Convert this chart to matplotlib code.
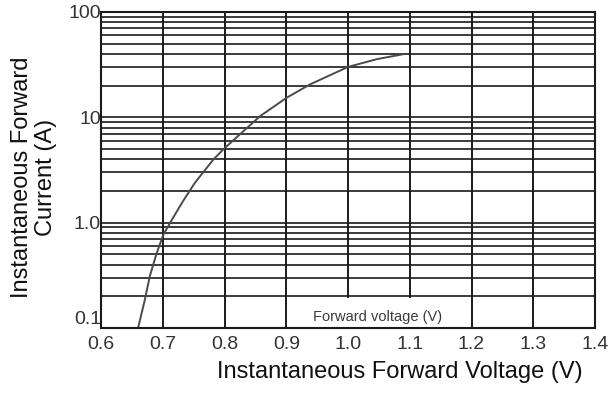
import matplotlib
matplotlib.use("Agg")
import matplotlib.pyplot as plt
from matplotlib.patches import Rectangle

plt.rcParams['font.family'] = ['Liberation Sans', 'DejaVu Sans']

voltage = [0.660, 0.671, 0.679, 0.690, 0.701, 0.715, 0.731, 0.752, 0.782, 0.798,
           0.825, 0.858, 0.901, 0.939, 1.000, 1.047, 1.09]
current = [0.1, 0.185, 0.31, 0.51, 0.77, 1.07, 1.54, 2.39, 3.98, 4.96,
           6.9, 10.3, 15.4, 20.6, 30.1, 35.7, 39.8]

x_ticks = [0.6, 0.7, 0.8, 0.9, 1.0, 1.1, 1.2, 1.3, 1.4]
x_tick_labels = ["0.6", "0.7", "0.8", "0.9", "1.0", "1.1", "1.2", "1.3", "1.4"]
y_ticks = [0.1, 1.0, 10, 100]
y_tick_labels = ["0.1", "1.0", "10", "100"]

fig = plt.figure(figsize=(6.08, 3.96), dpi=100)
ax = fig.add_axes([101/608, 1-328/396, 494/608, 316/396])
ax.set_yscale('log')
ax.set_xlim(0.6, 1.4)
ax.set_ylim(0.1, 100)

# grid
for xv in x_ticks:
    ax.axvline(xv, color='#1a1a1a', lw=1.4, zorder=1)
for dec in [0.1, 1, 10]:
    for m in range(1, 10):
        ax.axhline(dec * m, color='#1a1a1a', lw=1.2, zorder=1)

# white label box
ax.add_patch(Rectangle((0.905, 0.1), 0.285, 0.092, facecolor='white', edgecolor='none', zorder=2))
ax.text(0.943, 0.128, "Forward voltage (V)", fontsize=10.5, color='#3a3a3a',
        va='center', ha='left', zorder=3)

ax.plot(voltage, current, color='#4a4a4a', lw=1.4, zorder=4)

ax.set_xticks(x_ticks)
ax.set_xticklabels(x_tick_labels, fontsize=14, color='#333333')
ax.set_yticks(y_ticks)
ax.set_yticklabels(y_tick_labels, fontsize=14, color='#333333')
ax.yaxis.set_minor_locator(matplotlib.ticker.NullLocator())
ax.tick_params(axis='x', length=0, pad=6)
ax.tick_params(axis='y', length=0, pad=0)
# lift the bottom y label a little, as in the reference
ax.get_yticklabels()[0].set_verticalalignment('bottom')
for s in ax.spines.values():
    s.set_color('#1a1a1a')
    s.set_linewidth(1.5)
    s.set_zorder(5)

fig.text(400/608, 1-372/396, "Instantaneous Forward Voltage (V)", fontsize=17,
         ha='center', va='center', color='#111111')
fig.text(34/608, 1-177/396, "Instantaneous Forward\nCurrent (A)", fontsize=17,
         ha='center', va='center', rotation=90, multialignment='center',
         linespacing=1.15, color='#111111')

fig.savefig("out.png", dpi=100)
